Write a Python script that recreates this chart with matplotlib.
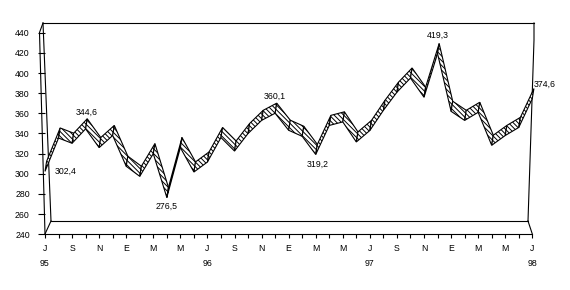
import matplotlib.pyplot as plt
from matplotlib.patches import Polygon
import numpy as np

# monthly values, Jul 95 .. Jul 98
values = [302.4, 335.5, 330.3, 344.6, 326.0, 338.0, 307.5, 297.5, 320.0, 276.5,
          326.0, 301.8, 311.7, 336.0, 322.6, 340.0, 353.0, 360.1, 343.2, 337.2,
          319.2, 348.0, 351.5, 331.6, 343.0, 363.0, 381.0, 395.0, 376.0, 419.3,
          362.0, 353.0, 361.0, 328.3, 338.0, 346.0, 374.6]
month_labels = ['J', 'S', 'N', 'E', 'M', 'M']
year_labels = {0: '95', 12: '96', 24: '97', 36: '98'}
y_ticks = [240, 260, 280, 300, 320, 340, 360, 380, 400, 420, 440]
# labelled points: index -> (offset x px, offset y px, ha)
point_labels = {0: (10, 0, 'left'), 3: (1, 17, 'center'), 9: (0, -9, 'center'),
                17: (0, 17, 'center'), 20: (2, -10, 'center'),
                29: (0, 18, 'center'), 36: (1, 14, 'left')}

plt.rcParams['font.family'] = ['Liberation Sans', 'DejaVu Sans']
plt.rcParams['hatch.linewidth'] = 0.7

W, H = 570, 290
fig = plt.figure(figsize=(W / 100, H / 100), dpi=100)

# frame of the 3d box, drawn in pixel coords
bg = fig.add_axes([0, 0, 1, 1], zorder=0)
bg.set_xlim(0, W)
bg.set_ylim(H, 0)
bg.axis('off')
lk = dict(color='black', lw=0.8)
bg.plot([43, 534], [23, 23], **lk)
bg.plot([43, 51], [23, 221], **lk)
bg.plot([43, 39.5, 45], [23, 32.5, 234], **lk)
bg.plot([534, 534, 528], [23, 40, 221], **lk)
bg.plot([51, 528], [221, 221], **lk)
bg.plot([45, 51], [234, 221], **lk)
bg.plot([532.3, 528], [234, 221], **lk)

left, right, top, bottom = 45, 532.3, 32.7, 234.3
ax = fig.add_axes([left / W, 1 - bottom / H, (right - left) / W, (bottom - top) / H], zorder=1)
ax.patch.set_alpha(0)
ax.set_xlim(0, 36)
ax.set_ylim(240, 440)
for s in ['top', 'right', 'left']:
    ax.spines[s].set_visible(False)
ax.spines['bottom'].set_linewidth(0.8)

n = len(values)
x = np.arange(n)
dx, dy = 0.12, 10
for i in range(n - 1):
    xs = [x[i], x[i + 1], x[i + 1] + dx, x[i] + dx]
    ys = [values[i], values[i + 1], values[i + 1] + dy, values[i] + dy]
    ax.add_patch(Polygon(list(zip(xs, ys)), closed=True, facecolor='white',
                         edgecolor='black', lw=0.8, hatch='\\\\\\\\\\\\\\', clip_on=False))

for i, (ox, oy, ha) in point_labels.items():
    ax.annotate(f'{values[i]:.1f}'.replace('.', ','), (x[i], values[i]),
                xytext=(ox * 0.72, oy * 0.72), textcoords='offset points',
                ha=ha, va='center', fontsize=6.3)

ax.set_yticks(y_ticks)
ax.set_yticklabels([str(t) for t in y_ticks], fontsize=6.3)
ax.tick_params(axis='y', length=5, width=0.8, pad=6)

major = list(range(0, n, 2))
labels = []
for i in major:
    lab = month_labels[(i // 2) % 6]
    if i in year_labels:
        lab += '\n' + year_labels[i]
    labels.append(lab)
ax.set_xticks(major)
ax.set_xticklabels(labels, fontsize=6.3, linespacing=1.8)
ax.set_xticks(list(range(1, n, 2)), minor=True)
ax.tick_params(axis='x', which='both', length=3, width=0.8, pad=4)

fig.savefig('out.png', dpi=100)
